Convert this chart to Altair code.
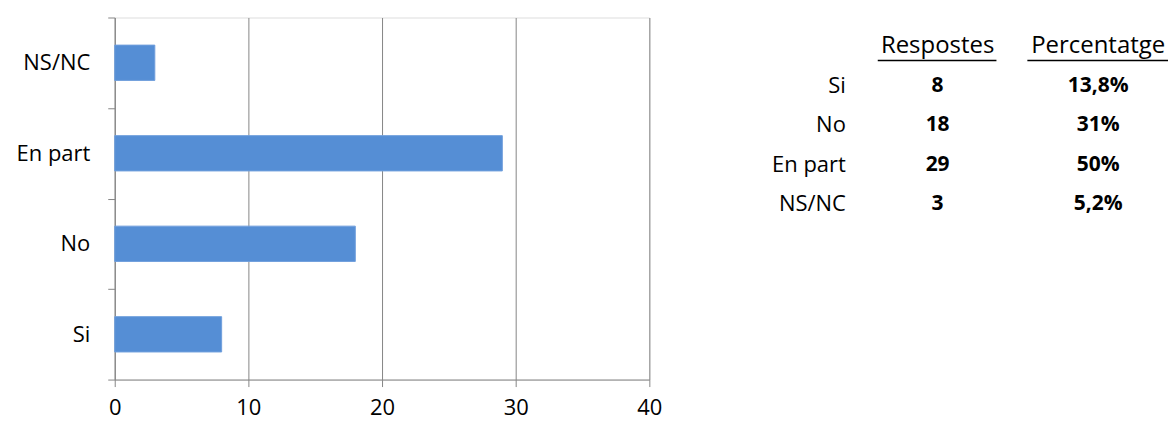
import altair as alt
import pandas as pd

categories = ["Si", "No", "En part", "NS/NC"]
responses = [8, 18, 29, 3]
percentages = ["13,8%", "31%", "50%", "5,2%"]
headers = ["Respostes", "Percentatge"]
x_ticks = [0, 10, 20, 30, 40]

FONT = "Open Sans"
FS = 22
bar_df = pd.DataFrame({"cat": categories, "val": responses})
y_order = ["NS/NC", "En part", "No", "Si"]

bars = alt.Chart(bar_df).mark_bar(
    height=alt.RelativeBandSize(0.39), color="#558ed5", stroke="#6f9fdc", strokeWidth=1
).encode(
    x=alt.X("val:Q", scale=alt.Scale(domain=[0, 40], nice=False),
            axis=alt.Axis(values=x_ticks, title=None, grid=True, gridColor="#868686",
                          gridWidth=1, domainColor="#868686", tickColor="#868686",
                          tickSize=7, labelPadding=11, labelFontSize=FS,
                          labelFont=FONT, labelColor="#000000", labelFlush=False)),
    y=alt.Y("cat:N", sort=y_order, scale=alt.Scale(paddingInner=0, paddingOuter=0),
            axis=alt.Axis(title=None, tickBand="extent", domainColor="#868686",
                          tickColor="#868686", tickSize=7, labelPadding=18,
                          labelFontSize=FS, labelFont=FONT, labelColor="#000000")),
)

rows_order = ["header"] + categories
row_scale = alt.Scale(type="point", domain=rows_order, range=[29, 187], padding=0)
col_scale = alt.Scale(type="point", domain=["resp", "pct"], range=[825, 986], padding=0)

table_df = pd.DataFrame({
    "row": categories, "label": categories,
    "resp": [str(v) for v in responses], "pct": percentages,
    "c_resp": "resp", "c_pct": "pct",
})
head_df = pd.DataFrame({"row": ["header", "header"], "text": headers, "col": ["resp", "pct"]})

lab = alt.Chart(table_df).mark_text(align="right", baseline="middle", font=FONT, dx=-92,
                                    fontSize=FS, color="#000000").encode(
    x=alt.X("c_resp:N", scale=col_scale, axis=None),
    y=alt.Y("row:N", scale=row_scale, axis=None), text="label:N")
resp = alt.Chart(table_df).mark_text(align="center", baseline="middle", font=FONT,
                                     fontSize=21, fontWeight="bold", color="#000000").encode(
    x=alt.X("c_resp:N", scale=col_scale, axis=None),
    y=alt.Y("row:N", scale=row_scale, axis=None), text="resp:N")
pct = alt.Chart(table_df).mark_text(align="center", baseline="middle", font=FONT,
                                    fontSize=21, fontWeight="bold", color="#000000").encode(
    x=alt.X("c_pct:N", scale=col_scale, axis=None),
    y=alt.Y("row:N", scale=row_scale, axis=None), text="pct:N")
head = alt.Chart(head_df).mark_text(align="center", baseline="middle", font=FONT,
                                    fontSize=24, color="#000000").encode(
    x=alt.X("col:N", scale=col_scale, axis=None),
    y=alt.Y("row:N", scale=row_scale, axis=None), text="text:N")

ul1 = alt.Chart(pd.DataFrame({"a": [0]})).mark_rule(color="#000000", strokeWidth=1.5).encode(
    x=alt.value(765), x2=alt.value(884), y=alt.value(43))
ul2 = alt.Chart(pd.DataFrame({"a": [0]})).mark_rule(color="#000000", strokeWidth=1.5).encode(
    x=alt.value(915), x2=alt.value(1057), y=alt.value(43))

chart = alt.layer(bars, lab, resp, pct, head, ul1, ul2).resolve_scale(
    x="independent", y="independent"
).properties(
    width=536, height=363,
    padding={"left": 107, "top": 9, "right": 520, "bottom": 40},
    autosize="none",
).configure_view(stroke=None).configure(background="#ffffff")

chart.save("out.html", embed_options={"renderer": "svg", "actions": False})
